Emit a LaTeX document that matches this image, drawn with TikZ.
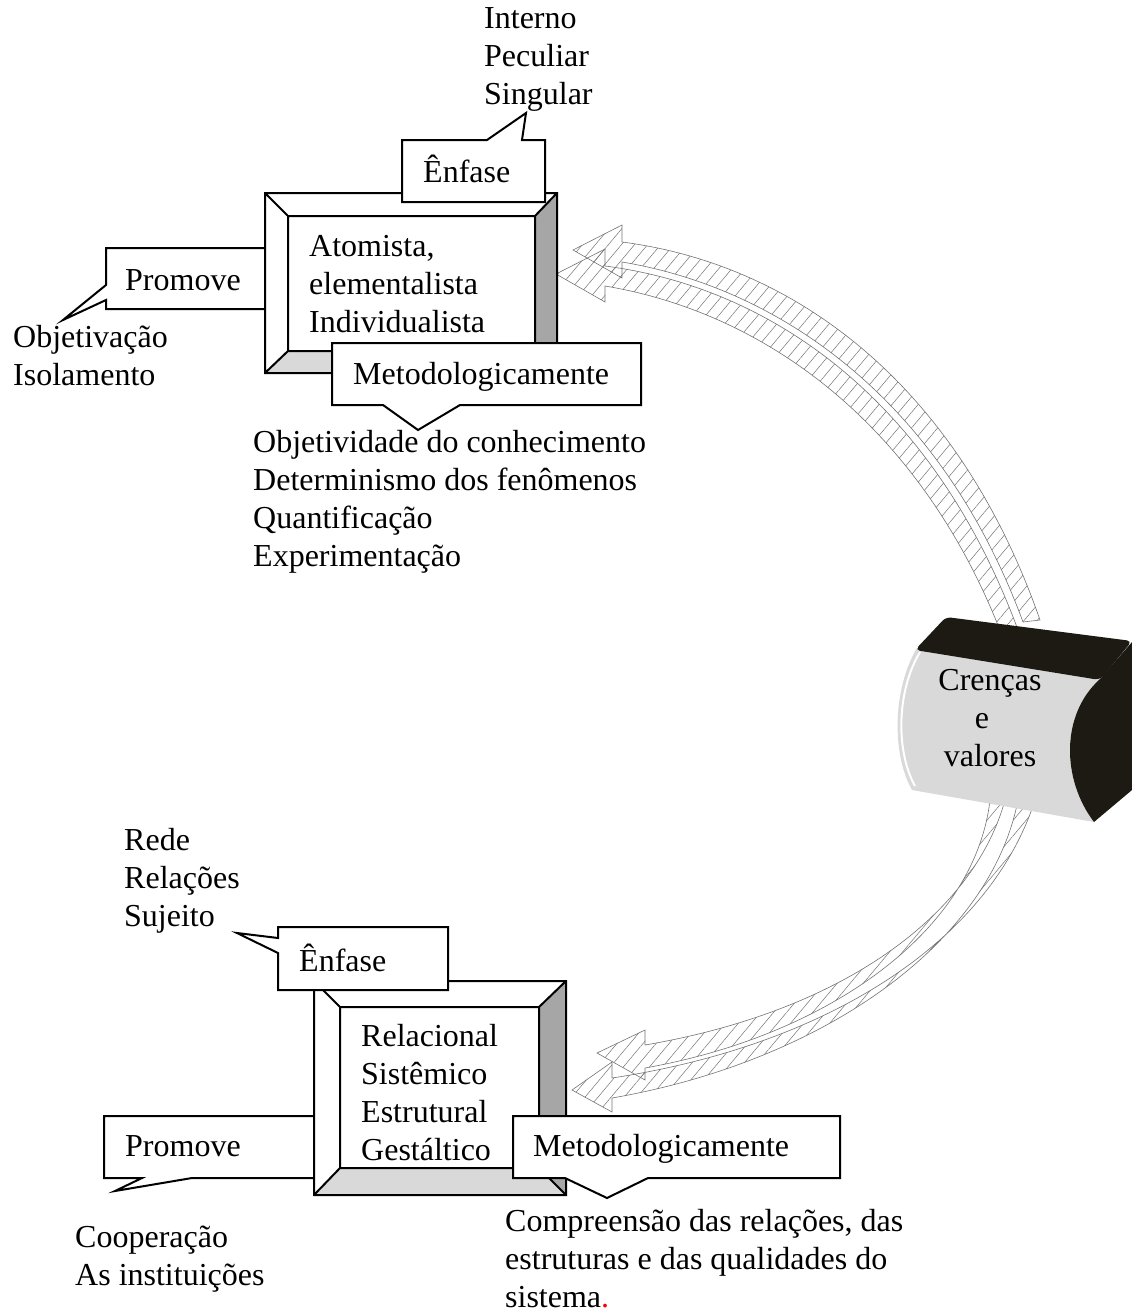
\documentclass[tikz,border=0pt]{standalone}
\usepackage{fontspec}
\setmainfont{Liberation Serif}
\usetikzlibrary{patterns.meta}
\definecolor{scrolldark}{HTML}{1C1A12}
\tikzset{
  callout/.style={draw, fill=white, line width=2pt, line join=miter},
  frame/.style={draw, line width=2pt, line join=miter},
  lbl/.style={anchor=north west, inner sep=0pt, align=left, execute at begin node=\strut},
  hatch/.style={draw=black!55, line width=0.6pt,
    pattern={Lines[angle=50,distance=10pt,line width=0.5pt]}, pattern color=black!55},
}
% outer box #1-#4, inner box #5-#8
\newcommand\bevelframe[8]{%
  \fill[white] (#1,#2) rectangle (#3,#4);
  \fill[black!35] (#3,#2) -- (#3,#4) -- (#7,#8) -- (#7,#6) -- cycle;
  \fill[black!15] (#1,#4) -- (#3,#4) -- (#7,#8) -- (#5,#8) -- cycle;
  \draw[frame] (#1,#2) rectangle (#3,#4) (#5,#6) rectangle (#7,#8)
    (#1,#2) -- (#5,#6) (#3,#2) -- (#7,#6) (#1,#4) -- (#5,#8) (#3,#4) -- (#7,#8);
}
\begin{document}
\begin{tikzpicture}[x=1pt, y=-1pt, font=\fontsize{32}{38}\selectfont]
\useasboundingbox (0,0) rectangle (1132,1312);

% arrows
\foreach \dx/\dy in {-17/24, 0/0}
  \draw[hatch, shift={(\dx,\dy)}] (573,250) -- (622,225) -- (622,242)
    .. controls (800,265) and (960,390) .. (1040,620) -- (1023,622)
    .. controls (945,410) and (790,290) .. (622,262) -- (622,278) -- cycle;
\draw[hatch] (572,1090) -- (612,1062) -- (612,1078)
  .. controls (830,1045) and (990,940) .. (1035,800) -- (1018,800)
  .. controls (990,945) and (820,1062) .. (612,1098) -- (612,1112) -- cycle;
\draw[hatch] (597,1053) -- (645,1030) -- (645,1045)
  .. controls (850,1010) and (975,910) .. (1005,800) -- (990,800)
  .. controls (975,930) and (830,1035) .. (645,1068) -- (645,1080) -- cycle;

% scroll
\fill[black!15] (917,648) .. controls (892,690) and (892,755) .. (912,790)
  -- (1094,822) .. controls (1062,780) and (1060,715) .. (1100,679) -- cycle;
\draw[white, line width=2pt] (920,652) .. controls (896,692) and (896,752) .. (915,786);
\draw[white, line width=1.5pt] (1097,683) .. controls (1066,718) and (1067,778) .. (1096,817);
\fill[scrolldark, rounded corners=5pt] (915,650) -- (946,617) -- (1132,641) -- (1100,680) -- cycle;
\fill[scrolldark] (1100,679) .. controls (1060,715) and (1062,780) .. (1094,822)
  -- (1132,790) -- (1132,642) -- cycle;
\node[anchor=north, inner sep=0pt, align=center, execute at begin node=\strut] (crencas) at (990,669)
  {Crenças\\\hspace*{-16pt}e\\valores};

% callouts behind frames
\draw[callout] (106,248) -- (267,248) -- (267,309) -- (106,309) -- (106,300) -- (63,320) -- (106,285) -- cycle;
\draw[callout] (104,1116) -- (314,1116) -- (314,1178) -- (192,1178) -- (115,1191) -- (142,1178) -- (104,1178) -- cycle;

% frames
\bevelframe{265}{193}{557}{373}{288}{216}{535}{351}
\bevelframe{314}{981}{566}{1195}{340}{1007}{539}{1168}

% callouts on top
\draw[callout] (402,140) -- (487,140) -- (526,113) -- (522,140) -- (545,140) -- (545,202) -- (402,202) -- cycle;
\draw[callout] (332,343) -- (641,343) -- (641,405) -- (460,405) -- (418,430) -- (383,405) -- (332,405) -- cycle;
\draw[callout] (278,927) -- (448,927) -- (448,990) -- (278,990) -- (278,953) -- (237,933) -- (278,938) -- cycle;
\draw[callout] (513,1116) -- (840,1116) -- (840,1178) -- (648,1178) -- (607,1198) -- (565,1178) -- (513,1178) -- cycle;

% texts
\node[lbl] (interno) at (484,7) {Interno\\Peculiar\\Singular};
\node[lbl] (enfaseA) at (423,155) {Ênfase};
\node[lbl] (atomista) at (309,235) {Atomista,\\elementalista\\Individualista};
\node[lbl] (promoveA) at (125,264) {Promove};
\node[lbl] (objetivacao) at (13,325) {Objetivação\\Isolamento};
\node[lbl] (metodoA) at (353,358) {Metodologicamente};
\node[lbl] (objetividade) at (253,430) {Objetividade do conhecimento\\Determinismo dos fenômenos\\Quantificação\\Experimentação};
\node[lbl] (rede) at (124,828) {Rede\\Relações\\Sujeito};
\node[lbl] (enfaseB) at (299,944) {Ênfase};
\node[lbl] (relacional) at (361,1024) {Relacional\\Sistêmico\\Estrutural\\Gestáltico};
\node[lbl] (promoveB) at (125,1130) {Promove};
\node[lbl] (metodoB) at (533,1130) {Metodologicamente};
\node[lbl] (compreensao) at (505,1209) {Compreensão das relações, das\\estruturas e das qualidades do\\sistema\textcolor{red}{.}};
\node[lbl] (cooperacao) at (75,1226) {Cooperação\\As instituições};
\end{tikzpicture}
\end{document}
